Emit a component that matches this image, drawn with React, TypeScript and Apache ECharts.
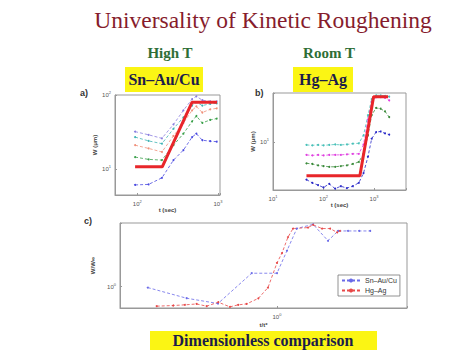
import React, { useEffect, useRef } from "react";
import * as echarts from "echarts";

// ---- text ----
const titleText = "Universality of Kinetic Roughening";
const highT = "High T";
const roomT = "Room T";
const sysA = "Sn–Au/Cu";
const sysB = "Hg–Ag";
const bottomText = "Dimensionless comparison";

// ---- panel a (Sn-Au/Cu), t in sec, W in um ----
const aTime = [94, 138, 202, 281, 373, 478, 540, 640, 800, 964];
const aW1 = [32, 29, 26, 40, 62, 88, 96, 85, 82, 82];
const aW2 = [27, 24, 22, 35, 50, 72, 80, 72, 76, 77];
const aW3 = [21, 19, 17, 28, 42, 62, 70, 58, 64, 66];
const aW4 = [14.5, 13.5, 13.2, 21, 30, 44, 52, 42, 46, 48];
const aW5 = [6.1, 6.2, 7.6, 13.2, 18, 27, 30, 24.5, 23.8, 23.4];
const aFitT = [94, 204, 478, 975];
const aFitW = [10.7, 10.7, 80, 80];

// ---- panel b (Hg-Ag) ----
const bTime = [46, 60, 78, 100, 130, 170, 220, 290, 380, 500, 620, 760, 900, 1100, 1350, 1650, 2000];
const bW1 = [9.4, 9.3, 9.4, 9.3, 9.4, 9.5, 9.4, 9.5, 9.7, 9.8, 12, 20, 30, 33, 33, 32.5, 32];
const bW2 = [7.3, 7.2, 7.3, 7.2, 7.3, 7.3, 7.3, 7.4, 7.5, 7.5, 9.5, 18, 28, 31.5, 31.5, 31, 29];
const bW3 = [5.9, 5.8, 5.6, 5.5, 5.4, 5.4, 5.5, 5.6, 5.8, 6.1, 7.5, 12, 20, 24, 23.5, 22, 19];
const bW4 = [3.9, 3.6, 3.4, 3.2, 3.5, 3.1, 3.3, 3.15, 3.3, 3.6, 4.6, 7, 11, 13, 13.2, 12.6, 12.2];
const bFitT = [46, 525, 980, 1900];
const bFitW = [4.3, 4.3, 31.8, 31.8];

// ---- panel c (dimensionless) ----
const cBlueT = [0.246, 0.375, 0.527, 0.76, 1.0, 1.115, 1.24, 1.48, 1.74, 1.94, 2.16, 2.44, 2.75];
const cBlueW = [0.99, 0.88, 0.83, 1.16, 1.16, 1.49, 1.9, 1.99, 1.66, 1.85, 1.85, 1.85, 1.85];
const cRedT = [0.271, 0.324, 0.368, 0.418, 0.466, 0.529, 0.6, 0.656, 0.719, 0.817, 0.907, 1.0, 1.056, 1.127, 1.19, 1.4, 1.48, 1.63, 1.78, 1.92, 1.98];
const cRedW = [0.806, 0.812, 0.818, 0.826, 0.806, 0.842, 0.8, 0.818, 0.826, 0.879, 0.99, 1.3, 1.45, 1.73, 1.9, 1.92, 1.98, 1.9, 1.9, 1.82, 1.85];

const zip = (xs: number[], ys: number[]) => xs.map((x, i) => [x, ys[i]]);

const powLabel = (v: number) => {
  const e = Math.log10(v);
  if (Math.abs(e - Math.round(e)) > 1e-6) return "";
  return `{b|10}{s|${Math.round(e)}}`;
};

const axisLabelStyle = {
  formatter: powLabel,
  showMinLabel: true,
  showMaxLabel: true,
  hideOverlap: false,
  margin: 4,
  rich: {
    b: { fontSize: 6, color: "#555", fontFamily: "Liberation Sans" },
    s: { fontSize: 4, color: "#555", fontFamily: "Liberation Sans", padding: [0, 0, 5, 0] },
  },
};

const logAxis = (gridIndex: number, min: number, max: number, name: string, nameGap: number, isY: boolean) => ({
  type: "log",
  gridIndex,
  min,
  max,
  logBase: 10,
  name,
  nameLocation: "middle",
  nameGap,
  nameRotate: isY ? 90 : 0,
  nameTextStyle: { fontSize: 6, fontWeight: "bold", color: "#444", fontFamily: "Liberation Sans" },
  axisLine: { show: true, lineStyle: { color: "#999", width: 1 } },
  axisTick: { show: true, inside: true, length: 2, lineStyle: { color: "#999" } },
  splitLine: { show: false },
  axisLabel: axisLabelStyle,
});

const thin = (name: string, data: number[][], color: string, x: number) => ({
  type: "line",
  name,
  xAxisIndex: x,
  yAxisIndex: x,
  data,
  symbol: "circle",
  symbolSize: 2,
  lineStyle: { color, width: 0.8, type: [3, 2] },
  itemStyle: { color },
  z: 3,
});

const fit = (name: string, data: number[][], x: number) => ({
  type: "line",
  name,
  xAxisIndex: x,
  yAxisIndex: x,
  data,
  symbol: "none",
  lineStyle: { color: "#e8262a", width: 3 },
  z: 5,
});

const serif = "Liberation Serif";

export default function App() {
  const ref = useRef<HTMLDivElement>(null);
  useEffect(() => {
    if (!ref.current) return;
    const chart = echarts.init(ref.current, undefined, { renderer: "svg" });
    chart.setOption({
      animation: false,
      backgroundColor: "#fff",
      grid: [
        { left: 115, top: 95, width: 105, height: 100, show: true, borderColor: "#999", borderWidth: 1, backgroundColor: "#fff" },
        { left: 273, top: 93, width: 133, height: 97, show: true, borderColor: "#999", borderWidth: 1, backgroundColor: "#fff" },
        { left: 120, top: 223, width: 287, height: 85, show: true, borderColor: "#999", borderWidth: 1, backgroundColor: "#fff" },
      ],
      xAxis: [
        logAxis(0, 53, 1060, "t (sec)", 9, false),
        logAxis(1, 10, 4300, "t (sec)", 9, false),
        logAxis(2, 0.182, 4.1, "t/t*", 14, false),
      ],
      yAxis: [
        logAxis(0, 4.46, 100, "W (μm)", 13, true),
        logAxis(1, 3, 35, "W (μm)", 13, true),
        logAxis(2, 0.79, 2.02, "W/W∞", 20, true),
      ],
      legend: {
        data: [sysA, sysB],
        left: 338,
        top: 275,
        orient: "vertical",
        itemWidth: 18,
        itemHeight: 5,
        itemGap: 3,
        padding: [2, 3],
        borderColor: "#777",
        borderWidth: 0.8,
        backgroundColor: "#fff",
        textStyle: { fontSize: 7, color: "#333", fontFamily: "Liberation Sans" },
      },
      series: [
        thin("a1", zip(aTime, aW1), "#8a7ee0", 0),
        thin("a2", zip(aTime, aW2), "#40b4b4", 0),
        thin("a3", zip(aTime, aW3), "#f0907a", 0),
        thin("a4", zip(aTime, aW4), "#3aa04a", 0),
        thin("a5", zip(aTime, aW5), "#4a4ae0", 0),
        fit("aFit", zip(aFitT, aFitW), 0),
        thin("b1", zip(bTime, bW1), "#48c0b8", 1),
        thin("b2", zip(bTime, bW2), "#e040e0", 1),
        thin("b3", zip(bTime, bW3), "#3a8a3a", 1),
        thin("b4", zip(bTime, bW4), "#2a2ac8", 1),
        fit("bFit", zip(bFitT, bFitW), 1),
        thin(sysA, zip(cBlueT, cBlueW), "#6a6ae8", 2),
        thin(sysB, zip(cRedT, cRedW), "#e84848", 2),
      ],
      graphic: [
        { type: "text", x: 263, y: 8, style: { text: titleText, font: `23.5px ${serif}`, fill: "#861c2c", align: "center" } },
        { type: "text", x: 170, y: 45, style: { text: highT, font: `bold 15px ${serif}`, fill: "#2e6e36", align: "center" } },
        { type: "text", x: 329, y: 45, style: { text: roomT, font: `bold 15px ${serif}`, fill: "#2e6e36", align: "center" } },
        { type: "rect", shape: { x: 125, y: 67, width: 78, height: 25 }, style: { fill: "#fbf514" } },
        { type: "text", x: 164, y: 71, style: { text: sysA, font: `bold 16px ${serif}`, fill: "#1c1c4a", align: "center" } },
        { type: "rect", shape: { x: 293, y: 67, width: 60, height: 25 }, style: { fill: "#fbf514" } },
        { type: "text", x: 323, y: 71, style: { text: sysB, font: `bold 16px ${serif}`, fill: "#1c1c4a", align: "center" } },
        { type: "text", x: 80, y: 88, style: { text: "a)", font: `bold 9px Liberation Sans`, fill: "#333" } },
        { type: "text", x: 255, y: 88, style: { text: "b)", font: `bold 9px Liberation Sans`, fill: "#333" } },
        { type: "text", x: 84, y: 216, style: { text: "c)", font: `bold 9px Liberation Sans`, fill: "#333" } },
        { type: "rect", shape: { x: 150, y: 331, width: 227, height: 19 }, style: { fill: "#fbf514" } },
        { type: "text", x: 263, y: 332, style: { text: bottomText, font: `bold 16px ${serif}`, fill: "#1c1c4a", align: "center" } },
      ],
    });
    return () => chart.dispose();
  }, []);
  return <div ref={ref} style={{ position: "absolute", left: 0, top: 0, width: 469, height: 360 }} />;
}
